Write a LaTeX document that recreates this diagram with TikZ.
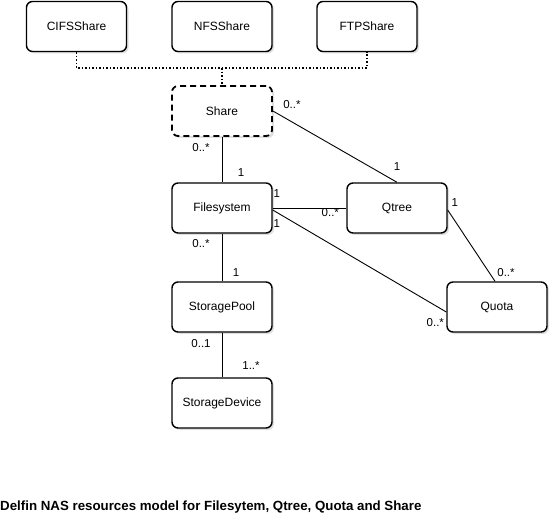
\documentclass[tikz,border=0pt]{standalone}
\usepackage{fontspec}
\setmainfont{Liberation Sans}
\usetikzlibrary{calc,shadows}

\begin{document}
\begin{tikzpicture}[x=1pt, y=-1pt,
	classnode/.style={draw=black, line width=1.4pt, rounded corners=6pt, fill=white, minimum width=100pt, minimum height=50pt, inner sep=0pt, font=\fontsize{12}{14}\selectfont, drop shadow={shadow xshift=2pt, shadow yshift=-2pt, opacity=0.25}},
	mult/.style={inner sep=0pt, font=\fontsize{11.5}{13}\selectfont},
	assoc/.style={draw=black, line width=0.9pt}]
			\useasboundingbox (0,0) rectangle (550,527);

			\node[classnode] (cifs) at (76.5,26.5) {CIFSShare};
			\node[classnode] (nfs) at (222,26.5) {NFSShare};
			\node[classnode] (ftp) at (367,26.5) {FTPShare};

			\node[classnode, line width=1.8pt, dash pattern=on 6pt off 4pt] (share) at (222,111) {Share};
			\node[classnode] (fs) at (222,208) {Filesystem};
			\node[classnode] (qtree) at (397,208) {Qtree};
			\node[classnode] (pool) at (222,307) {StoragePool};
			\node[classnode] (device) at (222,403) {StorageDevice};
			\node[classnode] (quota) at (497,307) {Quota};

			\coordinate (bus) at ($(share.north) + (0,-17)$);

			%multiplicities
			\node[mult] (sharefs) at ($(share.south) + (-21,11)$) {0..*};
			\node[mult] (fsshare) at ($(fs.north) + (19,-10)$) {1};
			\node[mult] (shareqt) at ($(share.east) + (19,-6)$) {0..*};
			\node[mult] (qtshare) at ($(qtree.north) + (0,-16)$) {1};
			\node[mult] (fsqt) at ($(fs.east) + (4,-14)$) {1};
			\node[mult] (qtfs) at ($(qtree.west) + (-16,5)$) {0..*};
			\node[mult] (fsquota) at ($(fs.east) + (4,16)$) {1};
			\node[mult] (quotafs) at ($(quota.west) + (-11,16)$) {0..*};
			\node[mult] (qtquota) at ($(qtree.east) + (7,-5)$) {1};
			\node[mult] (quotaqt) at ($(quota.north) + (9,-9)$) {0..*};
			\node[mult] (fspool) at ($(fs.south) + (-21,10)$) {0..*};
			\node[mult] (poolfs) at ($(pool.north) + (14,-9)$) {1};
			\node[mult] (pooldev) at ($(pool.south) + (-21,11)$) {0..1};
			\node[mult] (devpool) at ($(device.north) + (29,-12)$) {1..*};

			\node[anchor=west, inner sep=0pt, font=\bfseries\fontsize{13.3}{15}\selectfont] (title) at (0,507) {Delfin NAS resources model for Filesytem, Qtree, Quota and Share};

			\draw[black, line width=1.5pt, dotted] (cifs.south) |- (bus) -| (ftp.south);
			\draw[black, line width=1.5pt, dotted] (bus) -- (share.north);

			\draw[assoc] (share.south) -- (fs.north);
			\draw[assoc] (share.east) -- (qtree.north);
			\draw[assoc] (fs.east) -- (qtree.west);
			\draw[assoc] ($(fs.east) + (0,2)$) -- ($(quota.west) + (0,5)$);
			\draw[assoc] ($(qtree.east) + (0,2)$) -- ($(quota.north) + (-2,0)$);
			\draw[assoc] (fs.south) -- (pool.north);
			\draw[assoc] (pool.south) -- (device.north);

		\end{tikzpicture}
\end{document}
